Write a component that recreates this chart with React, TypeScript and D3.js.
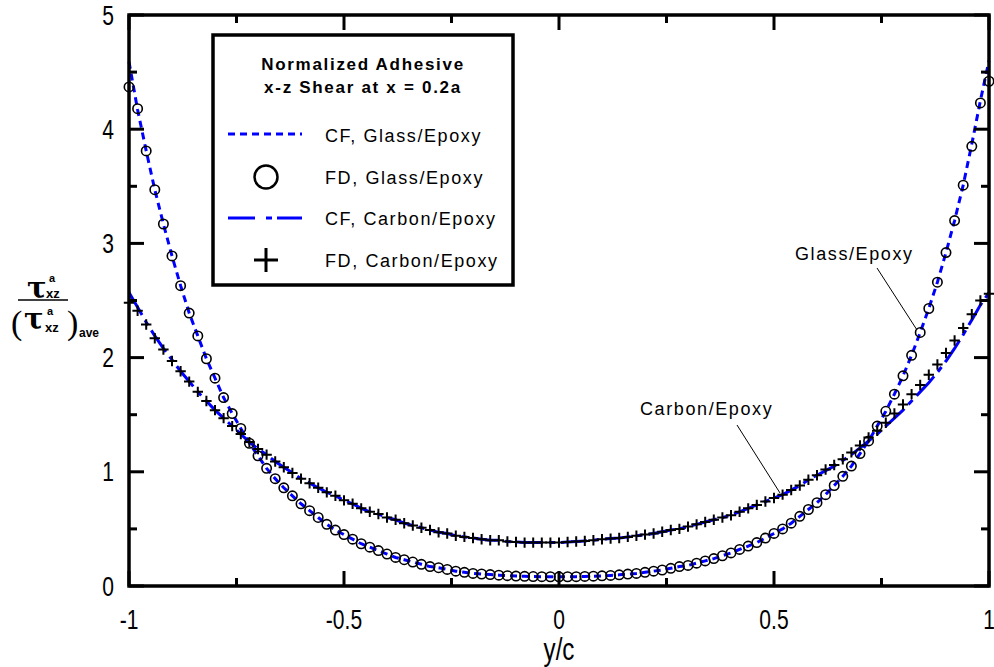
import React from "react";
import * as d3 from "d3";

// y/c sample positions (every 0.02)
const yOverC = [
  -1, -0.98, -0.96, -0.94, -0.92, -0.9, -0.88, -0.86, -0.84, -0.82,
  -0.8, -0.78, -0.76, -0.74, -0.72, -0.7, -0.68, -0.66, -0.64, -0.62,
  -0.6, -0.58, -0.56, -0.54, -0.52, -0.5, -0.48, -0.46, -0.44, -0.42,
  -0.4, -0.38, -0.36, -0.34, -0.32, -0.3, -0.28, -0.26, -0.24, -0.22,
  -0.2, -0.18, -0.16, -0.14, -0.12, -0.1, -0.08, -0.06, -0.04, -0.02,
  0,
  0.02, 0.04, 0.06, 0.08, 0.1, 0.12, 0.14, 0.16, 0.18, 0.2,
  0.22, 0.24, 0.26, 0.28, 0.3, 0.32, 0.34, 0.36, 0.38, 0.4,
  0.42, 0.44, 0.46, 0.48, 0.5, 0.52, 0.54, 0.56, 0.58, 0.6,
  0.62, 0.64, 0.66, 0.68, 0.7, 0.72, 0.74, 0.76, 0.78, 0.8,
  0.82, 0.84, 0.86, 0.88, 0.9, 0.92, 0.94, 0.96, 0.98, 1,
];

// FD, Glass/Epoxy (circles)
const glassFD = [
  4.37, 4.18, 3.81, 3.47, 3.17, 2.89, 2.63, 2.39, 2.19, 1.99,
  1.82, 1.65, 1.51, 1.38, 1.25, 1.14, 1.03, 0.94, 0.86, 0.79,
  0.72, 0.66, 0.6, 0.54, 0.49, 0.45, 0.41, 0.37, 0.34, 0.31,
  0.28, 0.25, 0.23, 0.21, 0.19, 0.17, 0.16, 0.145, 0.13, 0.12,
  0.11, 0.105, 0.1, 0.095, 0.09, 0.087, 0.085, 0.083, 0.082, 0.081,
  0.08,
  0.081, 0.082, 0.084, 0.086, 0.089, 0.093, 0.098, 0.104, 0.11, 0.12,
  0.13, 0.14, 0.155, 0.17, 0.18, 0.2, 0.22, 0.24, 0.265, 0.29,
  0.32, 0.35, 0.38, 0.42, 0.46, 0.5, 0.55, 0.61, 0.67, 0.73,
  0.8, 0.88, 0.96, 1.05, 1.16, 1.27, 1.4, 1.53, 1.68, 1.84,
  2.02, 2.22, 2.43, 2.66, 2.92, 3.2, 3.51, 3.85, 4.23, 4.42,
];

// CF, Glass/Epoxy (dashed line)
const glassCF = [
  4.59, 4.17, 3.81, 3.47, 3.17, 2.89, 2.63, 2.39, 2.19, 1.99,
  1.82, 1.65, 1.51, 1.38, 1.25, 1.14, 1.03, 0.94, 0.86, 0.79,
  0.72, 0.66, 0.6, 0.54, 0.49, 0.45, 0.41, 0.37, 0.34, 0.31,
  0.28, 0.25, 0.23, 0.21, 0.19, 0.17, 0.16, 0.145, 0.13, 0.12,
  0.11, 0.105, 0.1, 0.095, 0.09, 0.087, 0.085, 0.083, 0.082, 0.081,
  0.08,
  0.081, 0.082, 0.084, 0.086, 0.089, 0.093, 0.098, 0.104, 0.11, 0.12,
  0.13, 0.14, 0.155, 0.17, 0.18, 0.2, 0.22, 0.24, 0.265, 0.29,
  0.32, 0.35, 0.38, 0.42, 0.46, 0.5, 0.55, 0.61, 0.67, 0.73,
  0.8, 0.88, 0.96, 1.05, 1.16, 1.27, 1.4, 1.53, 1.68, 1.84,
  2.02, 2.22, 2.43, 2.66, 2.92, 3.2, 3.51, 3.87, 4.25, 4.6,
];

// FD, Carbon/Epoxy (plus markers)
const carbonFD = [
  2.48, 2.41, 2.29, 2.17, 2.07, 1.97, 1.88, 1.79, 1.7, 1.62,
  1.54, 1.47, 1.4, 1.33, 1.26, 1.2, 1.15, 1.09, 1.04, 0.99,
  0.94, 0.9, 0.86, 0.82, 0.79, 0.75, 0.72, 0.68, 0.65, 0.63,
  0.6, 0.58, 0.55, 0.53, 0.51, 0.49, 0.47, 0.46, 0.44, 0.43,
  0.42, 0.41, 0.4, 0.4, 0.39, 0.385, 0.38, 0.38, 0.38, 0.38,
  0.38,
  0.385, 0.39, 0.395, 0.4, 0.41, 0.415, 0.42, 0.43, 0.44, 0.45,
  0.46, 0.475, 0.49, 0.5, 0.52, 0.54, 0.56, 0.58, 0.6, 0.62,
  0.65, 0.68, 0.71, 0.74, 0.77, 0.8, 0.84, 0.88, 0.93, 0.97,
  1.02, 1.06, 1.11, 1.17, 1.23, 1.3, 1.36, 1.43, 1.51, 1.59,
  1.68, 1.76, 1.85, 1.94, 2.04, 2.15, 2.26, 2.38, 2.5, 2.56,
];

// CF, Carbon/Epoxy (dash-dot line)
const carbonCF = [
  2.57, 2.44, 2.31, 2.19, 2.08, 1.98, 1.88, 1.79, 1.7, 1.62,
  1.54, 1.47, 1.4, 1.33, 1.26, 1.2, 1.15, 1.09, 1.04, 0.99,
  0.94, 0.9, 0.86, 0.82, 0.79, 0.75, 0.72, 0.68, 0.65, 0.63,
  0.6, 0.58, 0.55, 0.53, 0.51, 0.49, 0.47, 0.46, 0.44, 0.43,
  0.42, 0.41, 0.4, 0.4, 0.39, 0.385, 0.38, 0.38, 0.38, 0.38,
  0.38,
  0.385, 0.39, 0.395, 0.4, 0.41, 0.415, 0.42, 0.43, 0.44, 0.45,
  0.46, 0.475, 0.49, 0.5, 0.52, 0.54, 0.56, 0.58, 0.6, 0.62,
  0.65, 0.68, 0.71, 0.74, 0.77, 0.8, 0.84, 0.88, 0.93, 0.97,
  1.01, 1.05, 1.1, 1.15, 1.21, 1.27, 1.33, 1.4, 1.47, 1.54,
  1.62, 1.7, 1.78, 1.87, 1.97, 2.08, 2.2, 2.33, 2.46, 2.57,
];

const xMajorTicks = [-1, -0.5, 0, 0.5, 1];
const xMajorLabels = ["-1", "-0.5", "0", "0.5", "1"];
const xMinorTicks = [-0.75, -0.25, 0.25, 0.75];
const yMajorTicks = [0, 1, 2, 3, 4, 5];
const yMajorLabels = ["0", "1", "2", "3", "4", "5"];
const yMinorTicks = [0.5, 1.5, 2.5, 3.5, 4.5];

const legendTitle = ["Normalized Adhesive", "x-z Shear at x = 0.2a"];
const legendLabels = ["CF, Glass/Epoxy", "FD, Glass/Epoxy", "CF, Carbon/Epoxy", "FD, Carbon/Epoxy"];
const xAxisTitle = "y/c";
const annoGlass = "Glass/Epoxy";
const annoCarbon = "Carbon/Epoxy";

const W = 994;
const H = 667;
const BLUE = "#0000ff";
const SANS = "'Liberation Sans', Arial, sans-serif";
const NARROW_SCALE = 0.78;

function NarrowText(props: { x: number; y: number; size: number; anchor: string; children: React.ReactNode }) {
  return (
    <text
      transform={`translate(${props.x},${props.y}) scale(${NARROW_SCALE},1)`}
      textAnchor={props.anchor as any}
      fontFamily={SANS}
      fontSize={props.size}
      fill="#000"
    >
      {props.children}
    </text>
  );
}

export default function App() {
  const x = d3.scaleLinear().domain([-1, 1]).range([129, 989]);
  const y = d3.scaleLinear().domain([0, 5]).range([586, 15]);

  const line = d3
    .line<number>()
    .x((_, i) => x(yOverC[i]))
    .y((d) => y(d));

  const [x0, x1] = x.range();
  const [yb, yt] = y.range();
  const majorLen = 15;
  const minorLen = 8;

  return (
    <svg
      width={W}
      height={H}
      viewBox={`0 0 ${W} ${H}`}
      style={{ position: "absolute", left: 0, top: 0, background: "#fff" }}
    >
      <rect x={0} y={0} width={W} height={H} fill="#fff" />

      {/* curves */}
      <path d={line(glassCF) || ""} fill="none" stroke={BLUE} strokeWidth={3} strokeDasharray="7,5" />
      <path d={line(carbonCF) || ""} fill="none" stroke={BLUE} strokeWidth={3} strokeDasharray="26,6,6,6" />

      {/* FD markers */}
      {glassFD.map((v, i) => (
        <circle key={"g" + i} cx={x(yOverC[i])} cy={y(v)} r={4.7} fill="none" stroke="#000" strokeWidth={1.6} />
      ))}
      {carbonFD.map((v, i) => {
        const cx = x(yOverC[i]);
        const cy = y(v);
        const s = 5.2;
        return (
          <path
            key={"c" + i}
            d={`M${cx - s},${cy}H${cx + s}M${cx},${cy - s}V${cy + s}`}
            stroke="#000"
            strokeWidth={2}
            fill="none"
          />
        );
      })}

      {/* frame */}
      <rect x={x0} y={yt} width={x1 - x0} height={yb - yt} fill="none" stroke="#000" strokeWidth={3.5} />

      {/* ticks */}
      {yMajorTicks.map((t) => (
        <g key={"ym" + t}>
          <line x1={x0} x2={x0 + majorLen} y1={y(t)} y2={y(t)} stroke="#000" strokeWidth={3} />
          <line x1={x1} x2={x1 - majorLen} y1={y(t)} y2={y(t)} stroke="#000" strokeWidth={3} />
        </g>
      ))}
      {yMinorTicks.map((t) => (
        <g key={"yn" + t}>
          <line x1={x0} x2={x0 + minorLen} y1={y(t)} y2={y(t)} stroke="#000" strokeWidth={3} />
          <line x1={x1} x2={x1 - minorLen} y1={y(t)} y2={y(t)} stroke="#000" strokeWidth={3} />
        </g>
      ))}
      {xMajorTicks.map((t) => (
        <g key={"xm" + t}>
          <line x1={x(t)} x2={x(t)} y1={yb} y2={yb - majorLen} stroke="#000" strokeWidth={3} />
          <line x1={x(t)} x2={x(t)} y1={yt} y2={yt + majorLen} stroke="#000" strokeWidth={3} />
        </g>
      ))}
      {xMinorTicks.map((t) => (
        <g key={"xn" + t}>
          <line x1={x(t)} x2={x(t)} y1={yb} y2={yb - minorLen} stroke="#000" strokeWidth={3} />
          <line x1={x(t)} x2={x(t)} y1={yt} y2={yt + minorLen} stroke="#000" strokeWidth={3} />
        </g>
      ))}

      {/* tick labels */}
      {yMajorTicks.map((t, i) => (
        <NarrowText key={"yl" + t} x={114} y={y(t) + 9.5} size={27} anchor="end">
          {yMajorLabels[i]}
        </NarrowText>
      ))}
      {xMajorTicks.map((t, i) => (
        <NarrowText key={"xl" + t} x={x(t)} y={629} size={27} anchor="middle">
          {xMajorLabels[i]}
        </NarrowText>
      ))}
      <NarrowText x={x(0)} y={660} size={31} anchor="middle">
        {xAxisTitle}
      </NarrowText>

      {/* y-axis label */}
      <g fill="#000">
        <text x={27} y={298} fontFamily="'DejaVu Serif', serif" fontSize={29} fontWeight="bold">τ</text>
        <text x={49} y={282} fontFamily={SANS} fontSize={11} fontWeight="bold">a</text>
        <text x={46} y={298} fontFamily={SANS} fontSize={13} fontWeight="bold">xz</text>
        <line x1={18} x2={68} y1={300} y2={300} stroke="#000" strokeWidth={1.5} />
        <text x={11} y={334} fontFamily="'Liberation Serif', serif" fontSize={34}>(</text>
        <text x={24} y={329} fontFamily="'DejaVu Serif', serif" fontSize={29} fontWeight="bold">τ</text>
        <text x={47} y={315} fontFamily={SANS} fontSize={11} fontWeight="bold">a</text>
        <text x={45} y={332} fontFamily={SANS} fontSize={13} fontWeight="bold">xz</text>
        <text x={67} y={334} fontFamily="'Liberation Serif', serif" fontSize={34}>)</text>
        <text x={79} y={337} fontFamily={SANS} fontSize={12} fontWeight="bold">ave</text>
      </g>

      {/* legend */}
      <rect x={213} y={35} width={300} height={250} fill="#fff" stroke="#000" strokeWidth={3.5} />
      {legendTitle.map((t, i) => (
        <text
          key={"lt" + i}
          x={363}
          y={70 + i * 23}
          textAnchor="middle"
          fontFamily={SANS}
          fontWeight="bold"
          fontSize={17}
          letterSpacing={1.7}
          fill="#000"
        >
          {t}
        </text>
      ))}
      <line x1={228} x2={302} y1={134} y2={134} stroke={BLUE} strokeWidth={3} strokeDasharray="7,5" />
      <circle cx={266} cy={177} r={11.5} fill="none" stroke="#000" strokeWidth={2.5} />
      <line x1={228} x2={302} y1={218} y2={218} stroke={BLUE} strokeWidth={3} strokeDasharray="27,11,6,5" />
      <path d="M254,260H278M266,248V272" stroke="#000" strokeWidth={3} fill="none" />
      {legendLabels.map((t, i) => (
        <text
          key={"ll" + i}
          x={325}
          y={142 + i * 41.7}
          fontFamily={SANS}
          fontSize={18}
          letterSpacing={1.6}
          fill="#000"
        >
          {t}
        </text>
      ))}

      {/* annotations */}
      <text x={795} y={260} fontFamily={SANS} fontSize={18} letterSpacing={1.6} fill="#000">
        {annoGlass}
      </text>
      <line x1={877} y1={268} x2={917} y2={330} stroke="#000" strokeWidth={1} />
      <text x={640} y={415} fontFamily={SANS} fontSize={18} letterSpacing={1.6} fill="#000">
        {annoCarbon}
      </text>
      <line x1={737} y1={425} x2={780} y2={493} stroke="#000" strokeWidth={1} />
    </svg>
  );
}
